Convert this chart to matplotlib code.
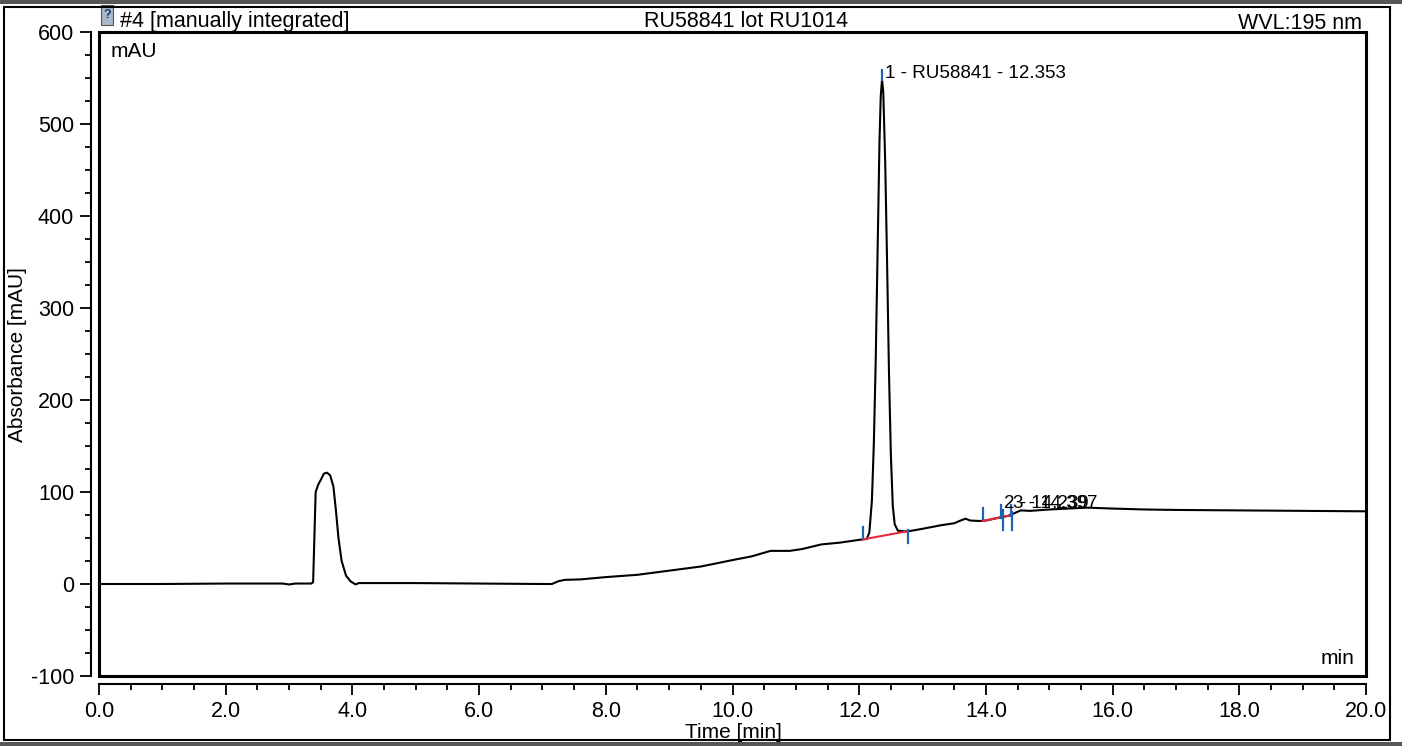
import matplotlib.pyplot as plt
from matplotlib.patches import Rectangle
import numpy as np

plt.rcParams['font.family'] = ['Liberation Sans', 'DejaVu Sans']
plt.rcParams['axes.unicode_minus'] = False

# chromatogram trace (time in min, absorbance in mAU)
time = [0.0, 1.0, 2.0, 2.9, 3.0, 3.1, 3.35, 3.38, 3.42, 3.46, 3.50, 3.55, 3.60,
        3.65, 3.70, 3.74, 3.78, 3.83, 3.90, 3.97, 4.05, 4.10, 5.0, 6.0, 7.0,
        7.15, 7.25, 7.35, 7.6, 8.0, 8.5, 9.0, 9.5, 10.0, 10.3, 10.5, 10.6,
        10.9, 11.1, 11.4, 11.7, 12.0, 12.12, 12.16, 12.20, 12.23, 12.26,
        12.29, 12.32, 12.34, 12.36, 12.38, 12.41, 12.44, 12.47, 12.50, 12.53,
        12.56, 12.61, 12.75, 13.0, 13.3, 13.5, 13.6, 13.68, 13.75, 13.9, 14.0,
        14.2, 14.35, 14.45, 14.55, 14.7, 15.0, 15.3, 15.6, 16.0, 16.5, 17.0,
        18.0, 19.0, 20.0]
absorb = [0, 0, 0.5, 0.5, -0.5, 0.5, 0.5, 2, 100, 108, 113, 120, 121,
          118, 106, 80, 50, 25, 9, 3, -0.5, 1, 1, 0.5, 0,
          0, 3, 4.5, 5, 7.5, 10, 14.5, 19, 26, 30, 34, 36,
          36, 38, 43, 45, 48, 49, 56, 90, 150, 240,
          360, 480, 530, 548, 535, 460, 350, 230, 140, 85,
          65, 58, 57, 60, 64, 66, 69, 71, 69, 68.5, 69,
          72, 74, 77, 80, 79.5, 81, 82, 83, 82, 81, 80.5,
          80, 79.5, 79]

# integration baselines (red)
base_t = [[12.06, 12.77], [13.95, 14.41]]
base_v = [[48.5, 57.5], [68.5, 75.0]]

# peak delimiter / apex marks (blue): time, low, high
mark_t = [12.06, 12.77, 12.36, 13.95, 14.24, 14.27, 14.40, 14.41]
mark_lo = [50, 45, 548, 71, 72, 59, 74, 59]
mark_hi = [62, 59, 559, 83, 86, 80, 86, 78]

peak_labels = ["1 - RU58841 - 12.353", "2 - 14.239", "3 - 14.397"]
label_t = [12.40, 14.29, 14.42]
label_v = [550, 83, 83]

W, H = 1402, 746
fig = plt.figure(figsize=(W / 100, H / 100), dpi=100)

def fx(x):
    return x / W

def fy(y):
    return 1 - y / H

ax = fig.add_axes([fx(99), fy(676), fx(1366 - 99), (676 - 32) / H])

ax.plot(time, absorb, color='black', lw=1.5, zorder=3)
for bt, bv in zip(base_t, base_v):
    ax.plot(bt, bv, color='#e8283a', lw=1.5, zorder=4)
for t, lo, hi in zip(mark_t, mark_lo, mark_hi):
    ax.plot([t, t], [lo, hi], color='#1e64b4', lw=1.6, zorder=5)
for lab, t, v in zip(peak_labels, label_t, label_v):
    ax.text(t, v, lab, fontsize=13.5, va='baseline', ha='left', zorder=6)

ax.set_xlim(0, 20)
ax.set_ylim(-100, 600)
ax.set_xticks(np.arange(0, 20.1, 2))
ax.set_xticklabels(['%.1f' % v for v in np.arange(0, 20.1, 2)])
ax.set_xticks(np.arange(0, 20.1, 0.5), minor=True)
ax.set_yticks(np.arange(-100, 601, 100))
ax.set_yticks(np.arange(-100, 601, 25), minor=True)
ax.tick_params(which='major', length=8, width=1.3, labelsize=15.5, pad=4)
ax.tick_params(which='minor', length=4, width=1.3)

for s in ['top', 'right']:
    ax.spines[s].set_visible(False)
for s in ['left', 'bottom']:
    ax.spines[s].set_position(('outward', 6))
    ax.spines[s].set_linewidth(1.5)

ax.add_patch(Rectangle((0, 0), 1, 1, transform=ax.transAxes, fill=False,
                       lw=2.2, ec='black', clip_on=False, zorder=10))

ax.text(0.009, 0.985, "mAU", transform=ax.transAxes, fontsize=15,
        va='top', ha='left')
ax.text(0.991, 0.012, "min", transform=ax.transAxes, fontsize=15,
        va='bottom', ha='right')

fig.text(fx(18), fy(355), "Absorbance [mAU]", rotation=90, fontsize=15,
         va='center', ha='center')
fig.text(fx(733), fy(733), "Time [min]", fontsize=15, va='center', ha='center')

# header line
fig.text(fx(120), fy(27), "#4 [manually integrated]", fontsize=15.5,
         va='baseline', ha='left')
fig.text(fx(746), fy(27), "RU58841 lot RU1014", fontsize=15.5,
         va='baseline', ha='center')
fig.text(fx(1362), fy(29), "WVL:195 nm", fontsize=15.5,
         va='baseline', ha='right')
fig.patches.append(Rectangle((fx(101), fy(25)), fx(12), 20 / H,
                             transform=fig.transFigure, fc='#a8b8c8',
                             ec='#555555', lw=0.8))
fig.text(fx(107), fy(15), "?", fontsize=9, color='#1e3c78',
         va='center', ha='center', weight='bold')

# outer frame of the printout
fig.patches.append(Rectangle((fx(4), fy(740)), fx(1390 - 4), (740 - 7) / H,
                             transform=fig.transFigure, fill=False,
                             ec='black', lw=1.5))
fig.patches.append(Rectangle((0, fy(4)), 1, 4 / H, transform=fig.transFigure,
                             fc='#555555', ec='none'))
fig.patches.append(Rectangle((0, 0), 1, 4 / H, transform=fig.transFigure,
                             fc='#555555', ec='none'))

fig.savefig("out.png", dpi=100)
